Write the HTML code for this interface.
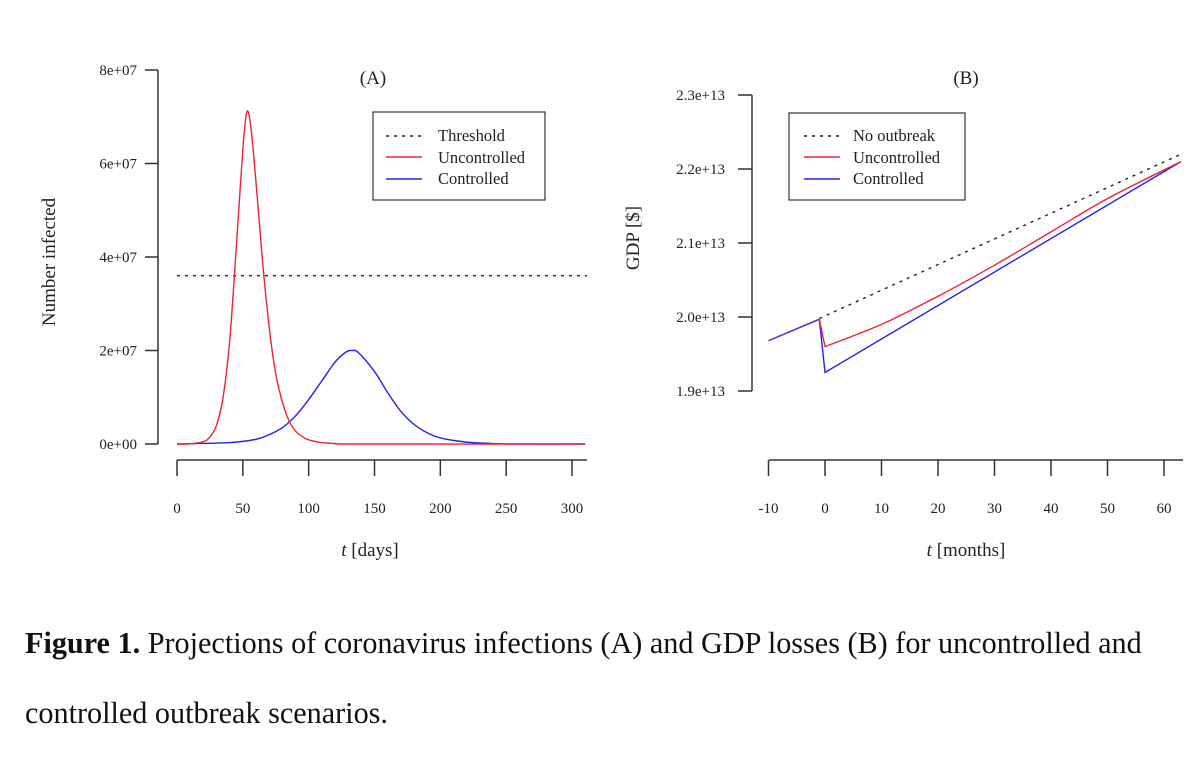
<!DOCTYPE html>
<html><head><meta charset="utf-8">
<style>
body{margin:0;background:#fff;width:1200px;height:758px;overflow:hidden;}
svg{position:absolute;left:0;top:0;}
.cap{position:absolute;left:25px;font-family:"Liberation Serif",serif;font-size:30.2px;color:#111;white-space:nowrap;}
</style></head>
<body>
<svg id="chart" width="1200" height="600" font-family="Liberation Serif, serif"></svg>
<div class="cap" style="top:626px"><b>Figure 1.</b> Projections of coronavirus infections (A) and GDP losses (B) for uncontrolled and</div>
<div class="cap" style="top:696px">controlled outbreak scenarios.</div>
<script>
// Panel A data (infected, millions)
const daysRed = [0,10,20,25,30,35,40,45,50,53,56,60,65,70,75,80,85,90,95,100,110,120,140,310];
const infRed = [0,0.05,0.5,1.5,4,10,22,42,63,71,68,56,39,25,15,9,5,2.8,1.6,0.9,0.3,0.1,0,0];
const daysBlue = [0,40,60,70,80,90,100,110,120,128,133,138,150,160,170,180,190,200,220,240,260,310];
const infBlue = [0,0.3,1,2,3.5,6,9.5,13.5,17.5,19.6,20,19.5,15.5,11,7,4.2,2.4,1.3,0.4,0.1,0,0];
const threshold = 36;
const xTicksA = [0,50,100,150,200,250,300];
const yTicksA = [0,20,40,60,80];
const yTickLabelsA = ["0e+00","2e+07","4e+07","6e+07","8e+07"];
// Panel B data (GDP, 1e13)
const monthsPre = [-10,-1];
const gdpPre = [1.968,1.997];
const monthsRed = [-1,0,10,20,30,40,50,63];
const gdpRed = [1.997,1.96,1.99,2.028,2.07,2.115,2.16,2.21];
const monthsBlue = [-1,0,63];
const gdpBlue = [1.997,1.925,2.21];
const monthsNo = [-1,63];
const gdpNo = [1.998,2.22];
const xTicksB = [-10,0,10,20,30,40,50,60];
const yTicksB = [1.9,2.0,2.1,2.2,2.3];
const yTickLabelsB = ["1.9e+13","2.0e+13","2.1e+13","2.2e+13","2.3e+13"];

const svg = document.getElementById('chart');
const NS = 'http://www.w3.org/2000/svg';
function mk(tag, attrs, name, parent){
  const e = document.createElementNS(NS, tag);
  for (const k in attrs) e.setAttribute(k, attrs[k]);
  
  
  (parent||svg).appendChild(e);
  return e;
}
function txt(x,y,s,name,opts){
  const t = mk('text', Object.assign({x:x,y:y,'font-size':15,fill:'#222'},opts||{}), name);
  t.textContent = s; return t;
}
function smooth(pts){
  let d = 'M'+pts[0][0]+','+pts[0][1];
  for (let i=0;i<pts.length-1;i++){
    const p0=pts[Math.max(0,i-1)],p1=pts[i],p2=pts[i+1],p3=pts[Math.min(pts.length-1,i+2)];
    const c1=[p1[0]+(p2[0]-p0[0])/6,p1[1]+(p2[1]-p0[1])/6];
    const c2=[p2[0]-(p3[0]-p1[0])/6,p2[1]-(p3[1]-p1[1])/6];
    d+=' C'+c1+' '+c2+' '+p2;
  }
  return d;
}
function linear(pts){ return 'M'+pts.map(p=>p.join(',')).join(' L'); }

// ---- Panel A ----
const xA = v => 177 + v*(572-177)/300;
const yA = v => 444 - v*(444-70)/80;
mk('line',{x1:158,y1:yA(0),x2:158,y2:yA(80),stroke:'#333','stroke-width':1.5},'y-axis-a');
yTicksA.forEach((v,i)=>{
  mk('line',{x1:145,y1:yA(v),x2:158,y2:yA(v),stroke:'#333','stroke-width':1.5},'y-tick-a');
  txt(137,yA(v)+5,yTickLabelsA[i],'y-tick-label-a',{'text-anchor':'end','font-size':15});
});
mk('line',{x1:177,y1:460,x2:587,y2:460,stroke:'#333','stroke-width':1.5},'x-axis-a');
xTicksA.forEach(v=>{
  mk('line',{x1:xA(v),y1:460,x2:xA(v),y2:476,stroke:'#333','stroke-width':1.5},'x-tick-a');
  txt(xA(v),513,String(v),'x-tick-label-a',{'text-anchor':'middle','font-size':15});
});
const tA = txt(370,556,'','x-axis-title-a',{'text-anchor':'middle','font-size':19});
tA.innerHTML = '<tspan font-style="italic">t</tspan> [days]';
txt(0,0,'Number infected','y-axis-title-a',{'text-anchor':'middle','font-size':19,transform:'translate(55,262) rotate(-90)'});
txt(373,84,'(A)','panel-title-a',{'text-anchor':'middle','font-size':19});
mk('line',{x1:xA(0),y1:yA(threshold),x2:587,y2:yA(threshold),stroke:'#222','stroke-width':1.4,'stroke-dasharray':'3,5'},'threshold-line');
mk('path',{d:smooth(daysBlue.map((d,i)=>[xA(d),yA(infBlue[i])])),fill:'none',stroke:'#2222ee','stroke-width':1.4},'controlled-line-a');
mk('path',{d:smooth(daysRed.map((d,i)=>[xA(d),yA(infRed[i])])),fill:'none',stroke:'#ee2233','stroke-width':1.4},'uncontrolled-line-a');
// legend A
mk('rect',{x:373,y:112,width:172,height:88,fill:'#fff',stroke:'#333','stroke-width':1.2},'legend-a');
mk('line',{x1:386,y1:136,x2:422,y2:136,stroke:'#222','stroke-width':1.4,'stroke-dasharray':'3,5'},'legend-swatch-threshold');
txt(438,141,'Threshold','legend-label-threshold',{'font-size':16.5});
mk('line',{x1:386,y1:157,x2:422,y2:157,stroke:'#ee2233','stroke-width':1.4},'legend-swatch-uncontrolled-a');
txt(438,163,'Uncontrolled','legend-label-uncontrolled-a',{'font-size':16.5});
mk('line',{x1:386,y1:179,x2:422,y2:179,stroke:'#2222ee','stroke-width':1.4},'legend-swatch-controlled-a');
txt(438,184,'Controlled','legend-label-controlled-a',{'font-size':16.5});

// ---- Panel B ----
const xB = v => 825 + v*(1164-825)/60;
const yB = v => 391 - (v-1.9)*(391-95)/0.4;
mk('line',{x1:752,y1:yB(1.9),x2:752,y2:yB(2.3),stroke:'#333','stroke-width':1.5},'y-axis-b');
yTicksB.forEach((v,i)=>{
  mk('line',{x1:738,y1:yB(v),x2:752,y2:yB(v),stroke:'#333','stroke-width':1.5},'y-tick-b');
  txt(725,yB(v)+5,yTickLabelsB[i],'y-tick-label-b',{'text-anchor':'end','font-size':15});
});
mk('line',{x1:769,y1:460,x2:1183,y2:460,stroke:'#333','stroke-width':1.5},'x-axis-b');
xTicksB.forEach(v=>{
  mk('line',{x1:xB(v),y1:460,x2:xB(v),y2:476,stroke:'#333','stroke-width':1.5},'x-tick-b');
  txt(xB(v),513,String(v),'x-tick-label-b',{'text-anchor':'middle','font-size':15});
});
const tB = txt(966,556,'','x-axis-title-b',{'text-anchor':'middle','font-size':19});
tB.innerHTML = '<tspan font-style="italic">t</tspan> [months]';
txt(0,0,'GDP [$]','y-axis-title-b',{'text-anchor':'middle','font-size':19,transform:'translate(639,238) rotate(-90)'});
txt(966,84,'(B)','panel-title-b',{'text-anchor':'middle','font-size':19});
mk('path',{d:linear(monthsNo.map((m,i)=>[xB(m),yB(gdpNo[i])])),fill:'none',stroke:'#222','stroke-width':1.4,'stroke-dasharray':'3,5'},'no-outbreak-line');
mk('path',{d:linear(monthsBlue.map((m,i)=>[xB(m),yB(gdpBlue[i])])),fill:'none',stroke:'#2222ee','stroke-width':1.4},'controlled-line-b');
mk('path',{d:'M'+xB(monthsRed[0])+','+yB(gdpRed[0])+' '+smooth(monthsRed.slice(1).map((m,i)=>[xB(m),yB(gdpRed[i+1])])).replace('M','L'),fill:'none',stroke:'#ee2233','stroke-width':1.4},'uncontrolled-line-b');
mk('path',{d:linear(monthsPre.map((m,i)=>[xB(m),yB(gdpPre[i])])),fill:'none',stroke:'#5533cc','stroke-width':1.6},'pre-outbreak-line');
// legend B
mk('rect',{x:789,y:113,width:176,height:87,fill:'#fff',stroke:'#333','stroke-width':1.2},'legend-b');
mk('line',{x1:804,y1:136,x2:840,y2:136,stroke:'#222','stroke-width':1.4,'stroke-dasharray':'3,5'},'legend-swatch-no-outbreak');
txt(853,141,'No outbreak','legend-label-no-outbreak',{'font-size':16.5});
mk('line',{x1:804,y1:157,x2:840,y2:157,stroke:'#ee2233','stroke-width':1.4},'legend-swatch-uncontrolled-b');
txt(853,163,'Uncontrolled','legend-label-uncontrolled-b',{'font-size':16.5});
mk('line',{x1:804,y1:179,x2:840,y2:179,stroke:'#2222ee','stroke-width':1.4},'legend-swatch-controlled-b');
txt(853,184,'Controlled','legend-label-controlled-b',{'font-size':16.5});
</script>
</body></html>
